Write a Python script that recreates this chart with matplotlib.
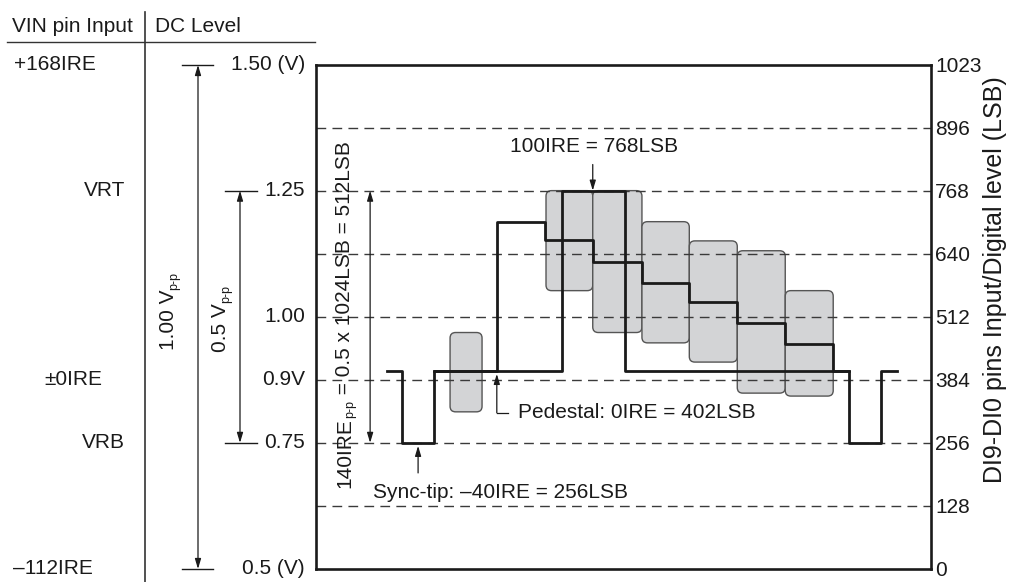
import matplotlib.pyplot as plt
import matplotlib.transforms as mtransforms
from matplotlib.lines import Line2D
from matplotlib.patches import FancyBboxPatch

plt.rcParams['font.family'] = ['Liberation Sans', 'DejaVu Sans']
plt.rcParams['font.size'] = 15
plt.rcParams['text.color'] = '#1a1a1a'

# digital level (right axis)
lsb_ticks = [0, 128, 256, 384, 512, 640, 768, 896, 1023]
grid_levels = [128, 256, 384, 512, 640, 768, 896]

# DC level column, placed on the LSB scale
dc_labels = ['1.50 (V)', '1.25', '1.00', '0.9V', '0.75', '0.5 (V)']
dc_lsb = [1023, 768, 512, 384, 256, 0]

# VIN pin input column
ire_labels = ['+168IRE', 'VRT', '±0IRE', 'VRB', '–112IRE']
ire_lsb = [1023, 768, 384, 256, 0]

# staircase signal (time in arbitrary units, level in LSB)
stair_t = [11.5, 14.0, 19.2, 29.4, 37.2, 45.0, 53.0, 60.7, 68.5, 76.3, 84.1, 86.7, 91.9, 94.5]
stair_lsb = [402, 256, 402, 705, 668, 624, 581, 542, 500, 457, 402, 256, 402, 402]

# 100IRE pulse
pulse_t = [19.2, 40.0, 50.2, 86.7]
pulse_lsb = [402, 768, 402, 402]

# grey ranges around each step
box_t0 = [21.8, 37.4, 45.0, 53.0, 60.7, 68.5, 76.3]
box_t1 = [27.0, 45.0, 53.0, 60.7, 68.5, 76.3, 84.1]
box_lo = [319, 565, 480, 459, 420, 357, 351]
box_hi = [480, 768, 768, 705, 666, 646, 565]

W, H = 1012, 582
fig = plt.figure(figsize=(W / 100, H / 100), dpi=100)
ax = fig.add_axes([316 / W, 1 - 569 / H, 615 / W, 504 / H])
ax.set_xlim(0, 100)
ax.set_ylim(0, 1023)

# pixel transform for the layout bits around the plot
px = mtransforms.Affine2D().scale(1 / W, -1 / H).translate(0, 1) + fig.transFigure
lvl = mtransforms.blended_transform_factory(px, ax.transData)

ink = '#1a1a1a'

for t0, t1, lo, hi in zip(box_t0, box_t1, box_lo, box_hi):
    ax.add_patch(FancyBboxPatch((t0, lo), t1 - t0, hi - lo,
                                boxstyle='round,pad=0,rounding_size=0.9',
                                mutation_aspect=12.5, fc='#d3d4d6', ec='#555555',
                                lw=1, zorder=1))

for g in grid_levels:
    ax.axhline(g, color='#3a3a3a', lw=1, dashes=(7, 4.5), zorder=2)

ax.plot(pulse_t, pulse_lsb, drawstyle='steps-post', color=ink, lw=2, zorder=4)
ax.plot(stair_t, stair_lsb, drawstyle='steps-post', color=ink, lw=2, zorder=4)

for s in ax.spines.values():
    s.set_linewidth(1.9)
    s.set_color(ink)
ax.set_xticks([])
ax.yaxis.tick_right()
ax.set_yticks(lsb_ticks)
ax.tick_params(axis='y', length=0, pad=3, labelsize=15, labelcolor=ink)
fig.text(995, 280, 'DI9-DI0 pins Input/Digital level (LSB)', transform=px,
         rotation=90, ha='center', va='center', fontsize=18)

# header of the left table
fig.text(12, 27, 'VIN pin Input', transform=px, va='center')
fig.text(155, 27, 'DC Level', transform=px, va='center')
fig.add_artist(Line2D([7, 315], [42, 42], transform=px, color='#333333', lw=1))
fig.add_artist(Line2D([145, 145], [12, 582], transform=px, color='#333333', lw=1.2))

ire_x = [14, 125, 102, 125, 13]
ire_ha = ['left', 'right', 'right', 'right', 'left']
for lab, v, x, ha in zip(ire_labels, ire_lsb, ire_x, ire_ha):
    ax.text(x, v, lab, transform=lvl, ha=ha, va='center', clip_on=False)

for lab, v in zip(dc_labels, dc_lsb):
    ax.text(305, v, lab, transform=lvl, ha='right', va='center', clip_on=False)

# level ticks and span arrows on the left
arr = dict(arrowstyle='<|-|>,head_length=0.5,head_width=0.15', mutation_scale=12,
           color=ink, lw=0.9, shrinkA=0, shrinkB=0)
for v in (1023, 0):
    ax.add_line(Line2D([182, 213], [v, v], transform=lvl, color=ink, lw=1, clip_on=False))
for v in (768, 256):
    ax.add_line(Line2D([225, 257], [v, v], transform=lvl, color=ink, lw=1, clip_on=False))
ax.annotate('', xy=(198, 0), xytext=(198, 1023), xycoords=lvl, textcoords=lvl,
            arrowprops=arr, annotation_clip=False)
ax.annotate('', xy=(240, 256), xytext=(240, 768), xycoords=lvl, textcoords=lvl,
            arrowprops=arr, annotation_clip=False)
ax.annotate('', xy=(8.8, 256), xytext=(8.8, 768), arrowprops=arr)


def rot_label(x, y, parts, size=15, subsize=9):
    first = prev = None
    for s, is_sub in parts:
        fs = subsize if is_sub else size
        if first is None:
            t = ax.annotate(s, (x, y), xycoords=px, rotation=90, rotation_mode='anchor',
                            ha='left', va='center', fontsize=fs, annotation_clip=False)
            first = t
        else:
            t = ax.annotate(s, (0.5, 1), xycoords=(first, prev),
                            xytext=(3.5 if is_sub else 0, 0), textcoords='offset points',
                            rotation=90, rotation_mode='anchor', ha='left', va='center',
                            fontsize=fs, annotation_clip=False)
        prev = t


rot_label(169, 350, [('1.00 V', False), ('p-p', True)])
rot_label(221, 352, [('0.5 V', False), ('p-p', True)])
rot_label(345, 488, [('140IRE', False), ('p-p', True),
                     (' = 0.5 x 1024LSB = 512LSB', False)])

# callouts inside the plot
one = dict(arrowstyle='-|>,head_length=0.5,head_width=0.15', mutation_scale=12,
           color=ink, lw=0.9, shrinkA=0, shrinkB=0)
fig.text(594, 147, '100IRE = 768LSB', transform=px, ha='center', va='center')
ax.annotate('', xy=(45.0, 768), xytext=(45.0, 821), arrowprops=one)

fig.text(518, 413, 'Pedestal: 0IRE = 402LSB', transform=px, ha='left', va='center')
ax.plot([31.2, 29.4], [317, 317], color=ink, lw=0.9)
ax.annotate('', xy=(29.4, 396), xytext=(29.4, 317), arrowprops=one)

fig.text(373, 493, 'Sync-tip: –40IRE = 256LSB', transform=px, ha='left', va='center')
ax.annotate('', xy=(16.6, 250), xytext=(16.6, 195), arrowprops=one)

fig.savefig('out.png', dpi=100)
